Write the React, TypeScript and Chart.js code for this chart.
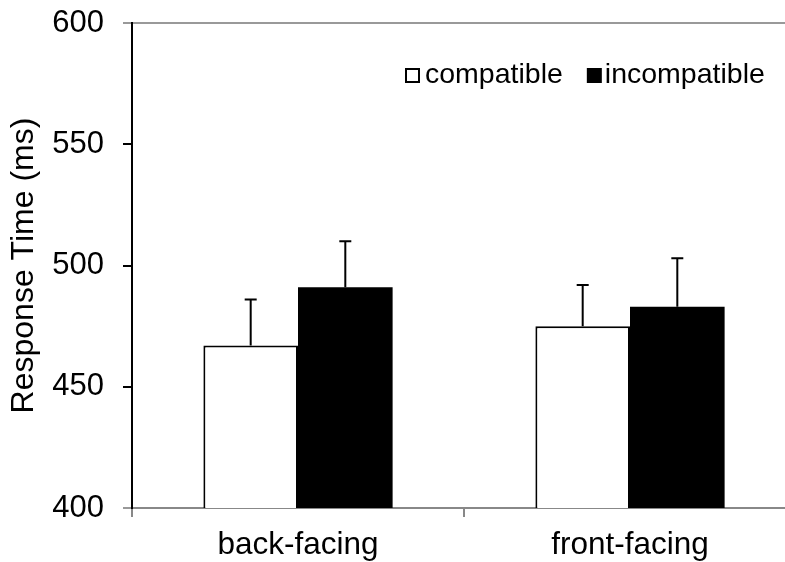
import React, { useEffect, useRef } from "react";
import { Chart, registerables } from "chart.js";

Chart.register(...registerables);

const categories = ["back-facing", "front-facing"];
const seriesLabels = ["compatible", "incompatible"];
const compatible = [467, 475];
const incompatible = [491, 483];
const compatibleErr = [19, 17];
const incompatibleErr = [19, 20];
const yTicks = [400, 450, 500, 550, 600];

const FONT = "'Liberation Sans', Arial, Helvetica, sans-serif";

const errorBarPlugin = {
  id: "errorBars",
  afterDatasetsDraw(chart: any) {
    const ctx = chart.ctx;
    const y = chart.scales.y;
    chart.data.datasets.forEach((ds: any, i: number) => {
      const meta = chart.getDatasetMeta(i);
      meta.data.forEach((bar: any, j: number) => {
        const top = y.getPixelForValue(ds.data[j] + ds.errors[j]);
        ctx.save();
        ctx.strokeStyle = "#000";
        ctx.lineWidth = 2;
        ctx.beginPath();
        ctx.moveTo(bar.x, bar.y);
        ctx.lineTo(bar.x, top);
        ctx.moveTo(bar.x - 6, top);
        ctx.lineTo(bar.x + 6, top);
        ctx.stroke();
        ctx.restore();
      });
    });
  },
};

const legendPlugin = {
  id: "customLegend",
  afterDraw(chart: any) {
    const ctx = chart.ctx;
    ctx.save();
    ctx.font = `28.5px ${FONT}`;
    ctx.textBaseline = "alphabetic";
    ctx.textAlign = "left";
    const baseline = 83;
    const box = 15;
    let x = 405;
    chart.data.datasets.forEach((ds: any, i: number) => {
      if (i === 0) {
        ctx.fillStyle = "#fff";
        ctx.fillRect(x, baseline - box, box, box);
        ctx.strokeStyle = "#000";
        ctx.lineWidth = 2;
        ctx.strokeRect(x + 1, baseline - box + 1, box - 2, box - 2);
      } else {
        ctx.fillStyle = "#000";
        ctx.fillRect(x, baseline - box, box, box);
      }
      const tx = x + box + (i === 0 ? 5 : 3);
      ctx.fillStyle = "#000";
      ctx.fillText(ds.label, tx, baseline);
      x = tx + ctx.measureText(ds.label).width + 24;
    });
    ctx.restore();
  },
};

export default function App() {
  const ref = useRef<HTMLCanvasElement | null>(null);

  useEffect(() => {
    if (!ref.current) return;
    const chart = new Chart(ref.current, {
      type: "bar",
      data: {
        labels: categories,
        datasets: [
          {
            label: seriesLabels[0],
            data: compatible,
            errors: compatibleErr,
            backgroundColor: "#ffffff",
            borderColor: "#000000",
            borderWidth: 2,
            borderSkipped: false,
            categoryPercentage: 0.57,
            barPercentage: 1,
          } as any,
          {
            label: seriesLabels[1],
            data: incompatible,
            errors: incompatibleErr,
            backgroundColor: "#000000",
            borderColor: "#000000",
            borderWidth: 0,
            categoryPercentage: 0.57,
            barPercentage: 1,
          } as any,
        ],
      },
      options: {
        responsive: false,
        animation: false,
        events: [],
        layout: { padding: { top: 23, right: 4, bottom: 0, left: 0 } },
        plugins: {
          legend: { display: false },
          tooltip: { enabled: false },
        },
        scales: {
          x: {
            ticks: {
              font: { size: 31.5, family: FONT },
              color: "#000",
              padding: 9,
            },
            grid: {
              offset: true,
              drawOnChartArea: false,
              tickLength: 9,
              color: "#888",
              lineWidth: 2,
            },
            border: { color: "#888", width: 2 },
            afterFit: (s: any) => {
              s.height = 54;
              s.paddingLeft = 0;
              s.paddingRight = 0;
            },
          },
          y: {
            min: 400,
            max: 600,
            afterBuildTicks: (s: any) => {
              s.ticks = yTicks.map((v) => ({ value: v }));
            },
            ticks: {
              font: { size: 31, family: FONT },
              color: "#000",
              padding: 19,
            },
            grid: {
              color: (c: any) =>
                c.tick && c.tick.value === 600 ? "#999" : "rgba(0,0,0,0)",
              tickColor: (c: any) =>
                c.tick && (c.tick.value === 600 || c.tick.value === 400)
                  ? "#999"
                  : "#000",
              lineWidth: 2,
              tickLength: 9,
            },
            border: { color: "#000", width: 2 },
            title: {
              display: true,
              text: "Response Time (ms)",
              font: { size: 32, family: FONT },
              color: "#000",
              padding: { top: 5, bottom: 0 },
            },
            afterFit: (s: any) => {
              s.width = 132;
              s.paddingTop = 0;
              s.paddingBottom = 0;
            },
          },
        },
      } as any,
      plugins: [errorBarPlugin, legendPlugin],
    });
    return () => chart.destroy();
  }, []);

  return (
    <div
      style={{
        position: "fixed",
        left: 0,
        top: 0,
        width: 785,
        height: 562,
        overflow: "hidden",
        background: "#fff",
      }}
    >
      <canvas
        ref={ref}
        width={800}
        height={562}
        style={{ width: 800, height: 562, display: "block" }}
      />
    </div>
  );
}
